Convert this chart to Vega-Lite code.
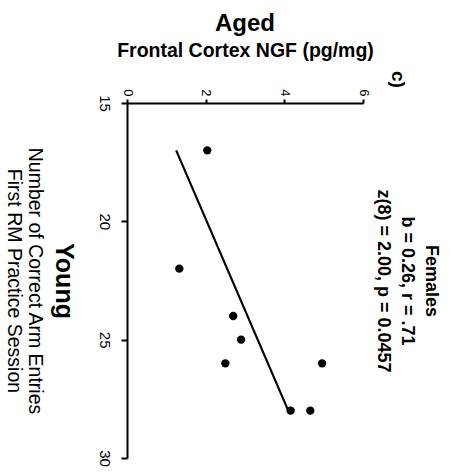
{
  "$schema": "https://vega.github.io/schema/vega-lite/v6.json",
  "autosize": {"type": "none"},
  "width": 236,
  "height": 355,
  "padding": {"left": 127, "top": 103, "right": 87, "bottom": 17},
  "background": "white",
  "title": {
    "text": "Aged",
    "fontSize": 24,
    "fontWeight": "bold",
    "font": "Liberation Sans",
    "color": "black",
    "anchor": "middle",
    "offset": 5
  },
  "config": {
    "view": {"stroke": null},
    "font": "Liberation Sans",
    "axis": {
      "domainColor": "black",
      "domainWidth": 2,
      "tickColor": "black",
      "tickWidth": 2,
      "grid": false,
      "labelColor": "black",
      "titleColor": "black",
      "labelFont": "Liberation Sans",
      "titleFont": "Liberation Sans"
    }
  },
  "datasets": {
    "points": [
      {"arm": 17, "ngf": 2.04},
      {"arm": 22, "ngf": 1.33},
      {"arm": 24, "ngf": 2.7},
      {"arm": 25, "ngf": 2.9},
      {"arm": 26, "ngf": 2.5},
      {"arm": 26, "ngf": 4.96},
      {"arm": 28, "ngf": 4.16},
      {"arm": 28, "ngf": 4.66}
    ],
    "fit": [
      {"arm": 17, "ngf": 1.25},
      {"arm": 28, "ngf": 4.1}
    ],
    "labels": [
      {"arm": 22.52, "ngf": -1.6, "label": "Young", "kind": "young"},
      {"arm": 14.0, "ngf": 6.88, "label": "c)", "kind": "panel"}
    ]
  },
  "resolve": {"axis": {"y": "independent"}},
  "layer": [
    {
      "data": {"name": "points"},
      "mark": {"type": "circle", "size": 70, "color": "black", "opacity": 1},
      "encoding": {
        "x": {
          "field": "ngf",
          "type": "quantitative",
          "scale": {"domain": [0, 6], "nice": false, "zero": false},
          "axis": {
            "orient": "top",
            "values": [0, 2, 4, 6],
            "title": "Frontal Cortex NGF (pg/mg)",
            "titleFontSize": 19.5,
            "titleFontWeight": "bold",
            "titlePadding": 28,
            "tickSize": 4,
            "labelAngle": 90,
            "labelAlign": "right",
            "labelBaseline": "middle",
            "labelFontSize": 13,
            "labelPadding": 3
          }
        },
        "y": {
          "field": "arm",
          "type": "quantitative",
          "scale": {"domain": [15, 30], "reverse": true, "nice": false, "zero": false},
          "axis": {
            "orient": "left",
            "values": [15, 20, 25, 30],
            "title": ["Number of Correct Arm Entries", "First RM Practice Session"],
            "titleAngle": 90,
            "titleBaseline": "top",
            "titleFontSize": 19.5,
            "titleFontWeight": "normal",
            "titleLineHeight": 21,
            "titlePadding": 32,
            "tickSize": 6,
            "labelAngle": 90,
            "labelAlign": "center",
            "labelBaseline": "top",
            "labelFontSize": 15,
            "labelPadding": 10
          }
        }
      }
    },
    {
      "data": {"name": "fit"},
      "mark": {"type": "line", "color": "black", "strokeWidth": 2.2},
      "encoding": {
        "x": {"field": "ngf", "type": "quantitative"},
        "y": {
          "field": "arm",
          "type": "quantitative",
          "axis": {
            "orient": "right",
            "domain": false,
            "ticks": false,
            "labels": false,
            "title": ["Females", "b = 0.26, r = .71", "z(8) = 2.00, p = 0.0457"],
            "titleAngle": 90,
            "titleBaseline": "bottom",
            "titleFontSize": 18,
            "titleFontWeight": "bold",
            "titleLineHeight": 24,
            "titlePadding": 10
          }
        }
      }
    },
    {
      "data": {"name": "labels"},
      "mark": {"type": "text", "angle": 90, "color": "black", "align": "center", "baseline": "middle", "fontWeight": "bold"},
      "encoding": {
        "x": {"field": "ngf", "type": "quantitative"},
        "y": {"field": "arm", "type": "quantitative", "axis": null},
        "text": {"field": "label"},
        "size": {"condition": {"test": "datum.kind === 'young'", "value": 25}, "value": 19}
      }
    }
  ]
}
